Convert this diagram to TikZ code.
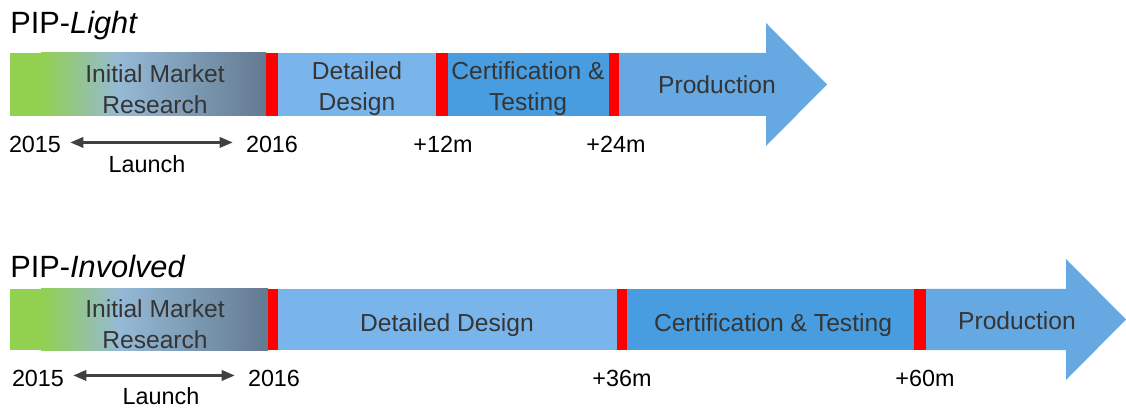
\documentclass[tikz,border=0pt]{standalone}
\usepackage{fontspec}
\setmainfont{Liberation Sans}
\usetikzlibrary{arrows.meta}

\definecolor{mkgreen}{HTML}{92D050}
\definecolor{mkmid}{HTML}{95B9D6}
\definecolor{mkslate}{HTML}{637A90}
\definecolor{ddblue}{HTML}{79B5EA}
\definecolor{ctblue}{HTML}{479DE0}
\definecolor{prblue}{HTML}{66A8E2}
\definecolor{txtgray}{HTML}{353535}
\definecolor{arrgray}{HTML}{404040}

\begin{document}
\begin{tikzpicture}[x=0.2mm, y=-0.2mm,
    bartxt/.style={font=\fontsize{14}{17.6}\selectfont, text=txtgray, align=center, inner sep=0pt},
    lbl/.style={font=\fontsize{13.3}{16}\selectfont, inner sep=0pt, anchor=base},
    ttl/.style={font=\fontsize{17.5}{20}\selectfont, inner sep=0pt, anchor=base west},
    launch/.style={{Triangle[length=2.6mm,width=2.1mm]}-{Triangle[length=2.6mm,width=2.1mm]},
        line width=1.2pt, draw=arrgray, shorten <=1.8mm, shorten >=2.6mm}]
    \useasboundingbox (0,0) rectangle (1126,408);

    % --- PIP-Light ---
    \node[ttl] (tlight) at (10,34) {PIP-\textit{Light}};
    \fill[mkgreen] (10,53) rectangle (41,116);
    \shade[left color=mkgreen, right color=mkmid] (41,53) rectangle (120,116);
    \shade[left color=mkmid, right color=mkslate] (120,53) rectangle (266,116);
    \fill[red] (266,53) rectangle (278,116);
    \fill[ddblue] (278,53) rectangle (436,116);
    \fill[red] (436,53) rectangle (448,116);
    \fill[ctblue] (448,53) rectangle (609,116);
    \fill[red] (609,53) rectangle (619,116);
    \fill[prblue] (619,53) -- (766,53) -- (766,23) -- (827,84.5) -- (766,146)
        -- (766,116) -- (619,116) -- cycle;

    \node[bartxt] (imrl) at (155,89) {Initial Market\\Research};
    \node[bartxt] (ddl) at (357,89) {Detailed\\Design};
    \node[bartxt] (ctl) at (528,89) {Certification \&\\Testing};
    \node[bartxt, anchor=base] (prl) at (717,94) {Production};

    % --- Meilensteine oben ---
    \node[lbl] (l15) at (35,153) {2015};
    \node[lbl] (l16) at (272,153) {2016};
    \node[lbl] (l12m) at (443,153) {+12m};
    \node[lbl] (l24m) at (616,153) {+24m};
    \draw[launch] ([yshift=0.5mm]l15.east) -- ([yshift=0.5mm]l16.west);
    \node[lbl] (llaunch) at (147,173) {Launch};

    % --- PIP-Involved ---
    \node[ttl] (tinv) at (10,278) {PIP-\textit{Involved}};
    \fill[mkgreen] (10,289) rectangle (41,350);
    \shade[left color=mkgreen, right color=mkmid] (41,289) rectangle (120,350);
    \shade[left color=mkmid, right color=mkslate] (120,289) rectangle (268,350);
    \fill[red] (268,289) rectangle (278,350);
    \fill[ddblue] (278,289) rectangle (617,350);
    \fill[red] (617,289) rectangle (627,350);
    \fill[ctblue] (627,289) rectangle (914,350);
    \fill[red] (914,289) rectangle (926,350);
    \fill[prblue] (926,289) -- (1066,289) -- (1066,259) -- (1126,319.5) -- (1066,380)
        -- (1066,350) -- (926,350) -- cycle;

    \node[bartxt] (imri) at (155,324) {Initial Market\\Research};
    \node[bartxt, anchor=base] (ddi) at (447,331) {Detailed Design};
    \node[bartxt, anchor=base] (cti) at (773,331) {Certification \& Testing};
    \node[bartxt, anchor=base] (pri) at (1017,330) {Production};

    % --- Meilensteine unten ---
    \node[lbl] (i15) at (38,386) {2015};
    \node[lbl] (i16) at (274,386) {2016};
    \node[lbl] (i36m) at (622,386) {+36m};
    \node[lbl] (i60m) at (925,386) {+60m};
    \draw[launch] ([yshift=0.5mm]i15.east) -- ([yshift=0.5mm]i16.west);
    \node[lbl] (ilaunch) at (161,404) {Launch};
\end{tikzpicture}
\end{document}
